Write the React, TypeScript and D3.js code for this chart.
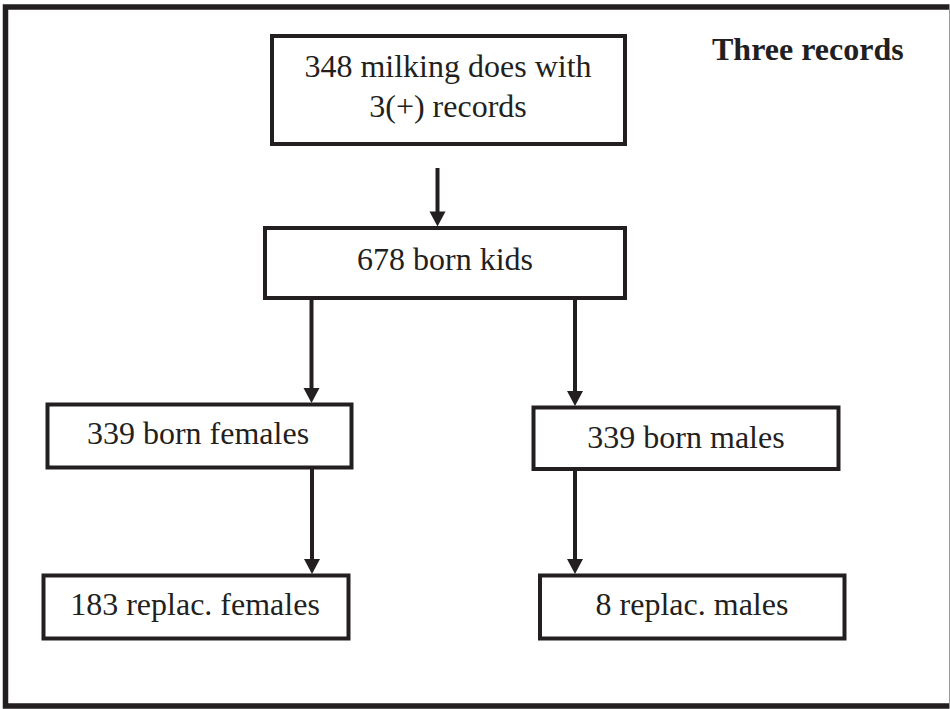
import React from "react";
import * as d3 from "d3";

// ---- data ----
const nodeLabels: string[][] = [
  ["348 milking does with", "3(+) records"],
  ["678 born kids"],
  ["339 born females"],
  ["339 born males"],
  ["183 replac. females"],
  ["8 replac. males"],
];
const edges: [number, number][] = [
  [0, 1],
  [1, 2],
  [1, 3],
  [2, 4],
  [3, 5],
];
const title = "Three records";

// ---- layout (positions, not data) ----
const boxes = [
  { x0: 272, y0: 36, x1: 625, y1: 144, cx: 448, base: [77, 117] },
  { x0: 265, y0: 228, x1: 625, y1: 298, cx: 445, base: [270] },
  { x0: 47.5, y0: 404.5, x1: 351.5, y1: 467.5, cx: 198, base: [444] },
  { x0: 533.5, y0: 407.5, x1: 838.5, y1: 469, cx: 686, base: [448] },
  { x0: 43.5, y0: 575.5, x1: 348.5, y1: 638.5, cx: 195, base: [615] },
  { x0: 540, y0: 575.5, x1: 844.5, y1: 638.5, cx: 692, base: [615] },
];
const edgeLayout = [
  { x: 437.5, y0: 168 },
  { x: 311.5, y0: 298 },
  { x: 575, y0: 298 },
  { x: 312, y0: 467.5 },
  { x: 575, y0: 469 },
];

const INK = "#231f20";
const FONT = "Liberation Serif, DejaVu Serif, Times New Roman, serif";

export default function App() {
  const line = d3.line<[number, number]>();
  const headH = 15;
  const headW = 8;
  return (
    <svg
      width={950}
      height={709}
      style={{ position: "absolute", left: 0, top: 0, background: "#fff" }}
    >
      <rect x={0} y={0} width={950} height={709} fill="#fff" />
      {/* outer frame */}
      <path
        d={line([
          [949.5, 7],
          [5.5, 7],
          [5.5, 706],
          [949.5, 706],
        ]) as string}
        fill="none"
        stroke={INK}
        strokeWidth={5.5}
      />
      <line x1={949.5} y1={7} x2={949.5} y2={706} stroke="#999" strokeWidth={1} />

      {/* boxes */}
      {nodeLabels.map((lines, i) => {
        const b = boxes[i];
        return (
          <g key={i}>
            <rect
              x={b.x0}
              y={b.y0}
              width={b.x1 - b.x0}
              height={b.y1 - b.y0}
              fill="#fff"
              stroke={INK}
              strokeWidth={4}
            />
            {lines.map((t, j) => (
              <text
                key={j}
                x={b.cx}
                y={b.base[j]}
                textAnchor="middle"
                style={{ fontFamily: FONT, fontSize: "32px" }}
                fill={INK}
              >
                {t}
              </text>
            ))}
          </g>
        );
      })}

      {/* arrows */}
      {edges.map(([, to], i) => {
        const e = edgeLayout[i];
        const tip = boxes[to].y0 - 1.5;
        return (
          <g key={i}>
            <path
              d={line([
                [e.x, e.y0],
                [e.x, tip - headH + 1],
              ]) as string}
              stroke={INK}
              strokeWidth={4}
              fill="none"
            />
            <path
              d={(line([
                [e.x - headW, tip - headH],
                [e.x + headW, tip - headH],
                [e.x, tip],
              ]) as string) + "Z"}
              fill={INK}
            />
          </g>
        );
      })}

      <text
        x={712}
        y={60}
        style={{ fontFamily: FONT, fontSize: "32px", fontWeight: "bold" }}
        fill={INK}
      >
        {title}
      </text>
    </svg>
  );
}
